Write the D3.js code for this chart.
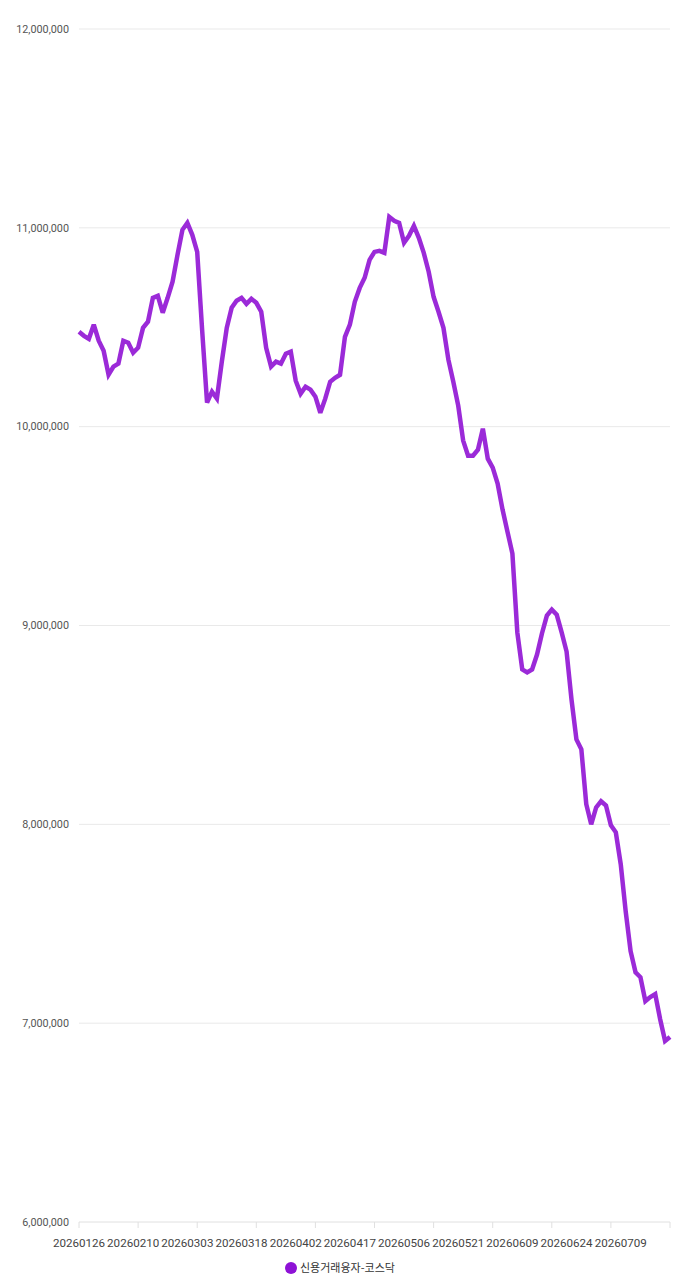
<!DOCTYPE html>
<meta charset="utf-8">
<title>신용거래융자-코스닥</title>
<style>
  body { margin: 0; background: #fff; }
  .grid line { stroke: #e9e9e9; stroke-width: 1px; }
  text.ylab { font-family: Roboto, sans-serif; font-size: 10.8px; fill: #555; }
  text.xlab { font-family: Roboto, sans-serif; font-size: 11.6px; fill: #444; }
  text.legend { font-family: "Noto Sans CJK KR", sans-serif; font-size: 11px; fill: #333; }
</style>
<script src="https://d3js.org/d3.v7.min.js"></script>
<div id="chart"></div>
<script>

// trading days (categories)
var dates = [
  "20260126","20260127","20260128","20260129","20260130",
  "20260202","20260203","20260204","20260205","20260206","20260209","20260210",
  "20260211","20260212","20260213","20260219","20260220","20260223","20260224",
  "20260225","20260226","20260227","20260303","20260304","20260305","20260306",
  "20260309","20260310","20260311","20260312","20260313","20260316","20260317",
  "20260318","20260319","20260320","20260323","20260324","20260325","20260326",
  "20260327","20260330","20260331","20260401","20260402","20260403","20260406",
  "20260407","20260408","20260409","20260410","20260413","20260414","20260415",
  "20260416","20260417","20260420","20260421","20260422","20260423","20260424",
  "20260427","20260428","20260429","20260430","20260504","20260506","20260507",
  "20260508","20260511","20260512","20260513","20260514","20260515","20260518",
  "20260519","20260520","20260521","20260522","20260526","20260527","20260528",
  "20260529","20260601","20260602","20260604","20260605","20260608","20260609",
  "20260610","20260611","20260612","20260615","20260616","20260617","20260618",
  "20260619","20260622","20260623","20260624","20260625","20260626","20260629",
  "20260630","20260701","20260702","20260703","20260706","20260707","20260708",
  "20260709","20260710","20260713","20260714","20260715","20260716","20260717",
  "20260720","20260721","20260722","20260723"
];

// 신용거래융자-코스닥
var kosdaq = [
  10477000,10457000,10442000,10513000,10432000,10382000,10261000,10302000,10317000,10432000,
  10422000,10372000,10397000,10497000,10528000,10648000,10658000,10573000,10648000,10729000,
  10864000,10990000,11025000,10965000,10879000,10487000,10121000,10176000,10141000,10327000,
  10497000,10598000,10633000,10648000,10618000,10643000,10623000,10578000,10397000,10302000,
  10327000,10317000,10367000,10377000,10231000,10166000,10201000,10186000,10151000,10070000,
  10141000,10226000,10246000,10261000,10452000,10513000,10628000,10698000,10749000,10839000,
  10879000,10884000,10874000,11055000,11035000,11025000,10925000,10960000,11010000,10950000,
  10874000,10779000,10653000,10578000,10497000,10337000,10226000,10106000, 9930000, 9854000,
   9854000, 9884000, 9990000, 9839000, 9794000, 9714000, 9583000, 9472000, 9362000, 8965000,
   8779000, 8764000, 8779000, 8854000, 8960000, 9050000, 9080000, 9055000, 8965000, 8869000,
   8628000, 8427000, 8377000, 8101000, 8000000, 8085000, 8116000, 8095000, 7995000, 7960000,
   7799000, 7563000, 7362000, 7256000, 7231000, 7111000, 7131000, 7146000, 7020000, 6910000,
   6930000
];

var yTicks = [6000000, 7000000, 8000000, 9000000, 10000000, 11000000, 12000000];
var seriesName = "신용거래융자-코스닥";
var labelEvery = 11;
var tickCount = 10;

var W = 679, H = 1280;
var margin = {top: 29, right: 9, bottom: 58, left: 79},
    width = W - margin.left - margin.right,
    height = H - margin.top - margin.bottom;

var svg = d3.select("#chart")
  .append("svg")
    .attr("width", W)
    .attr("height", H)
  .append("g")
    .attr("transform", "translate(" + margin.left + "," + margin.top + ")");

var x = d3.scalePoint()
  .domain(dates)
  .range([0, width]);

var y = d3.scaleLinear()
  .domain([yTicks[0], yTicks[yTicks.length - 1]])
  .range([height, 0]);

// horizontal grid
svg.append("g")
  .attr("class", "grid")
  .selectAll("line")
  .data(yTicks.slice(1))
  .enter()
  .append("line")
    .attr("x1", 0)
    .attr("x2", width)
    .attr("y1", function(d) { return y(d); })
    .attr("y2", function(d) { return y(d); });

// y labels
svg.selectAll("text.ylab")
  .data(yTicks)
  .enter()
  .append("text")
    .attr("class", "ylab")
    .attr("x", -10)
    .attr("y", function(d) { return y(d); })
    .attr("dy", "0.35em")
    .attr("text-anchor", "end")
    .text(d3.format(",.0f"));

// x axis line + evenly split tick marks
svg.append("line")
  .attr("x1", 0)
  .attr("x2", width)
  .attr("y1", height)
  .attr("y2", height)
  .attr("stroke", "#e0e0e0")
  .attr("stroke-width", 1);

svg.selectAll("line.xtick")
  .data(d3.range(tickCount + 1))
  .enter()
  .append("line")
    .attr("class", "xtick")
    .attr("x1", function(i) { return width * i / tickCount; })
    .attr("x2", function(i) { return width * i / tickCount; })
    .attr("y1", height)
    .attr("y2", height + 6)
    .attr("stroke", "#e0e0e0");

// x labels every 11 trading days
svg.selectAll("text.xlab")
  .data(dates.filter(function(d, i) { return i % labelEvery === 0; }))
  .enter()
  .append("text")
    .attr("class", "xlab")
    .attr("x", function(d) { return x(d); })
    .attr("y", height + 25)
    .attr("text-anchor", "middle")
    .text(function(d) { return d; });

// the line
var line = d3.line()
  .x(function(d, i) { return x(dates[i]); })
  .y(function(d) { return y(d); });

svg.append("path")
  .datum(kosdaq)
  .attr("fill", "none")
  .attr("stroke", "#9b2ad8")
  .attr("stroke-width", 4.5)
  .attr("stroke-linejoin", "miter")
  .attr("stroke-miterlimit", 3)
  .attr("d", line);

// legend
var legend = svg.append("g")
  .attr("transform", "translate(" + (212) + "," + (height + 46) + ")");
legend.append("circle")
  .attr("cx", 0)
  .attr("cy", 0)
  .attr("r", 6)
  .attr("fill", "#8e12d6");
legend.append("text")
  .attr("class", "legend")
  .attr("x", 9)
  .attr("dy", "0.36em")
  .text(seriesName);

</script>
